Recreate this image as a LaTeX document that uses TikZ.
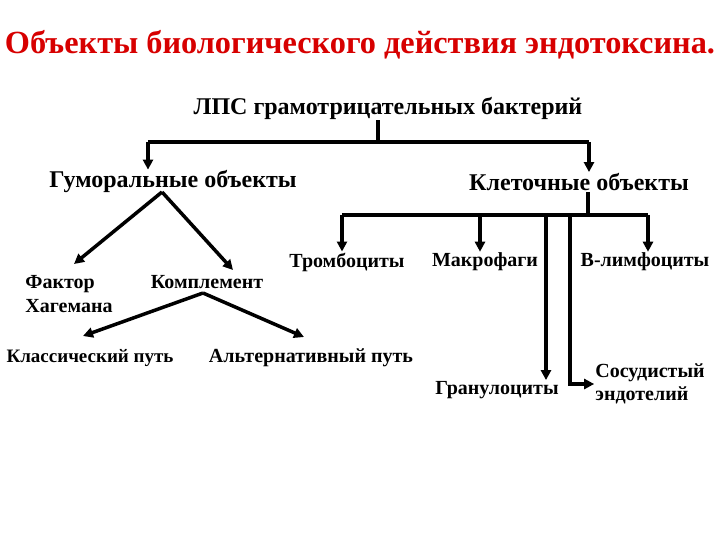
\documentclass[tikz,border=0pt]{standalone}
\usepackage{fontspec}
\setmainfont{Liberation Serif}
\usetikzlibrary{arrows.meta}
\definecolor{titlered}{RGB}{215,0,0}
\tikzset{
  lbl/.style={font=\bfseries\fontsize{20}{23.5}\selectfont, inner sep=1pt, text=black},
  big/.style={font=\bfseries\fontsize{24}{28}\selectfont, inner sep=1pt},
  ln/.style={line width=3.5pt},
  arr/.style={line width=3.5pt, -{Triangle[length=10pt,width=10pt]}},
}
\begin{document}
\begin{tikzpicture}[x=1pt,y=-1pt]
\useasboundingbox (0,0) rectangle (720,540);
\node[font=\bfseries\fontsize{32.3}{38}\selectfont, text=titlered, inner sep=0pt] (title) at (360,45) {Объекты биологического действия эндотоксина.};
\node[big] (lps) at (388,108) {ЛПС грамотрицательных бактерий};
\node[big] (hum) at (173,182) {Гуморальные объекты};
\node[big] (cell) at (579,182) {Клеточные объекты};
\node[lbl, align=left] (fak) at (69,294) {Фактор\\Хагемана};
\node[lbl] (kom) at (207,282) {Комплемент};
\node[lbl, font=\bfseries\fontsize{19}{23}\selectfont] (klas) at (90,358) {Классический путь};
\node[lbl] (alt) at (311,358) {Альтернативный путь};
\node[lbl] (trom) at (347,262) {Тромбоциты};
\node[lbl] (makr) at (485,262) {Макрофаги};
\node[lbl] (blim) at (645,262) {В-лимфоциты};
\node[lbl] (gran) at (497,390) {Гранулоциты};
\node[lbl, align=left] (sos) at (650,384) {Сосудистый\\эндотелий};
% top tree
\coordinate (j1) at (378,142);
\coordinate (hl) at (148,142);
\coordinate (hr) at (589,142);
\draw[ln] (j1 |- lps.south) -- (j1);
\draw[ln] (hl) -- (hr);
\draw[arr] (hl) -- (hl |- hum.north);
\draw[arr] (hr) -- (hr |- cell.north);
% humoral
\coordinate (ha) at (162,192);
\draw[arr] (ha) -- (74,264);
\draw[arr] (ha) -- (233,270);
\coordinate (ka) at (203,293);
\draw[arr] (ka) -- (83,336);
\draw[arr] (ka) -- (304,337);
% cellular
\coordinate (cj) at (588,215);
\coordinate (cl) at (342,215);
\coordinate (cm) at (480,215);
\coordinate (cr) at (648,215);
\draw[ln] (cj |- cell.south) -- (cj);
\draw[ln] (cl) -- (cr);
\draw[arr] (cl) -- (cl |- trom.north);
\draw[arr] (cm) -- (cm |- makr.north);
\draw[arr] (cr) -- (cr |- blim.north);
\coordinate (g1) at (546,215);
\coordinate (g2) at (570,215);
\draw[arr] (g1) -- (g1 |- gran.north);
\draw[arr] (g2) |- (sos.west);
\end{tikzpicture}
\end{document}
